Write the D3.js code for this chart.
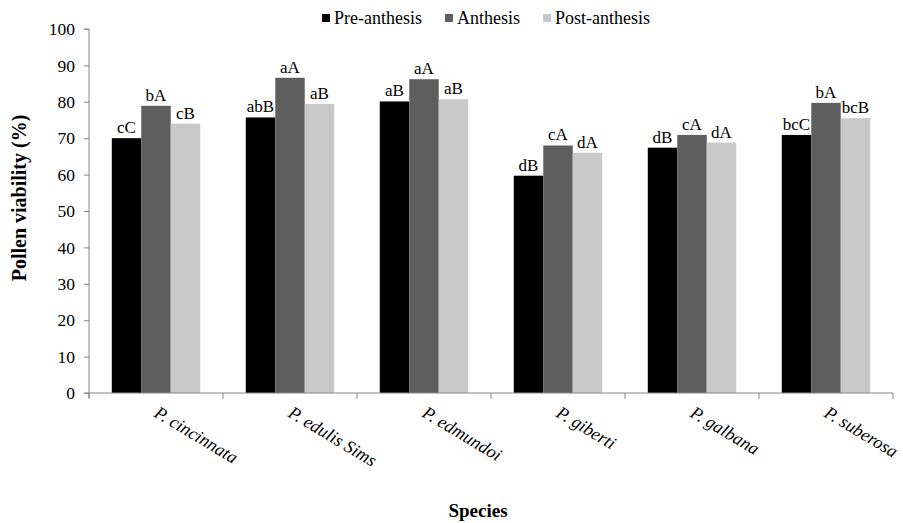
<!DOCTYPE html>
<html><head><meta charset="utf-8">
<script src="https://cdn.jsdelivr.net/npm/d3@7"></script>
<style>body{margin:0;background:#fff}svg{display:block}</style>
</head><body><svg id="c" width="903" height="523"></svg>
<script>
const categories = ["P. cincinnata","P. edulis Sims","P. edmundoi","P. giberti","P. galbana","P. suberosa"];
const seriesNames = ["Pre-anthesis","Anthesis","Post-anthesis"];
const preAnthesis  = [70.0, 75.7, 80.1, 59.7, 67.4, 70.9];
const anthesis     = [78.9, 86.6, 86.2, 68.0, 70.9, 79.7];
const postAnthesis = [74.0, 79.4, 80.7, 66.0, 68.8, 75.5];
const preLabels  = ["cC","abB","aB","dB","dB","bcC"];
const antLabels  = ["bA","aA","aA","cA","cA","bA"];
const postLabels = ["cB","aB","aB","dA","dA","bcB"];
const yTicks = [0,10,20,30,40,50,60,70,80,90,100];
const colors = ["#000000","#5e5e5e","#c9c9c9"];

const values = [preAnthesis, anthesis, postAnthesis];
const labels = [preLabels, antLabels, postLabels];
const FONT = "'Liberation Serif', 'Times New Roman', Times, serif";

const svg = d3.select("#c");
const mLeft = 89, mRight = 893, mTop = 29, mBottom = 393;
const x = d3.scaleBand().domain(categories).range([mLeft, mRight]).padding(0);
const bw = x.bandwidth();
const xs = d3.scaleBand().domain(seriesNames).range([bw*0.17, bw*0.83]).padding(0);
const y = d3.scaleLinear().domain([0,100]).range([mBottom, mTop]);
const axisColor = "#868686";

// bars
seriesNames.forEach((s, si) => {
  const g = svg.append("g");
  categories.forEach((c, ci) => {
    const v = values[si][ci];
    g.append("rect")
      .attr("x", x(c) + xs(s))
      .attr("y", y(v))
      .attr("width", xs.bandwidth())
      .attr("height", y(0) - y(v))
      .attr("fill", colors[si]);
    svg.append("text")
      .attr("x", x(c) + xs(s) + xs.bandwidth()/2)
      .attr("y", y(v) - 5)
      .attr("text-anchor", "middle")
      .style("font-family", FONT)
      .style("font-size", "17px")
      .attr("fill", "#000")
      .text(labels[si][ci]);
  });
});

// y axis
const ya = svg.append("g").attr("transform", `translate(${mLeft},0)`)
  .call(d3.axisLeft(y).tickValues(yTicks).tickSize(5).tickPadding(9).tickFormat(d3.format("d")));
ya.attr("font-family", null).attr("font-size", null);
ya.select(".domain").attr("stroke", axisColor).attr("d", `M-5,${mTop}H0V${mBottom+5}`);
ya.selectAll(".tick line").attr("stroke", axisColor);
ya.selectAll(".tick text").style("font-family", FONT).style("font-size", "17.5px").attr("fill", "#000");

// x axis line
svg.append("line").attr("x1", mLeft - 5).attr("x2", mRight).attr("y1", mBottom).attr("y2", mBottom).attr("stroke", axisColor);
const bounds = categories.map(c => x(c)).concat([x(categories[categories.length-1]) + bw]);
svg.selectAll(".xt").data(bounds).enter().append("line")
  .attr("x1", d => d).attr("x2", d => d).attr("y1", mBottom).attr("y2", mBottom + 6).attr("stroke", axisColor);

// x labels
categories.forEach(c => {
  const cx = x(c) + bw/2;
  svg.append("text")
    .attr("transform", `translate(${cx - 3},${mBottom + 23}) rotate(31)`)
    .style("font-family", FONT)
    .style("font-size", "18px")
    .style("font-style", "italic")
    .attr("fill", "#000")
    .text(c);
});

// axis titles
svg.append("text").attr("transform", `translate(26,198) rotate(-90)`)
  .attr("text-anchor", "middle").style("font-family", FONT).style("font-size", "20px").style("font-weight", "bold").text("Pollen viability (%)");
svg.append("text").attr("x", 478).attr("y", 517)
  .attr("text-anchor", "middle").style("font-family", FONT).style("font-size", "19px").style("font-weight", "bold").text("Species");

// legend
const legX = [322, 445, 543];
seriesNames.forEach((s, i) => {
  svg.append("rect").attr("x", legX[i]).attr("y", 14).attr("width", 8).attr("height", 8).attr("fill", colors[i]);
  svg.append("text").attr("x", legX[i] + 12).attr("y", 24).style("font-family", FONT).style("font-size", "18px").text(s);
});
</script></body></html>
